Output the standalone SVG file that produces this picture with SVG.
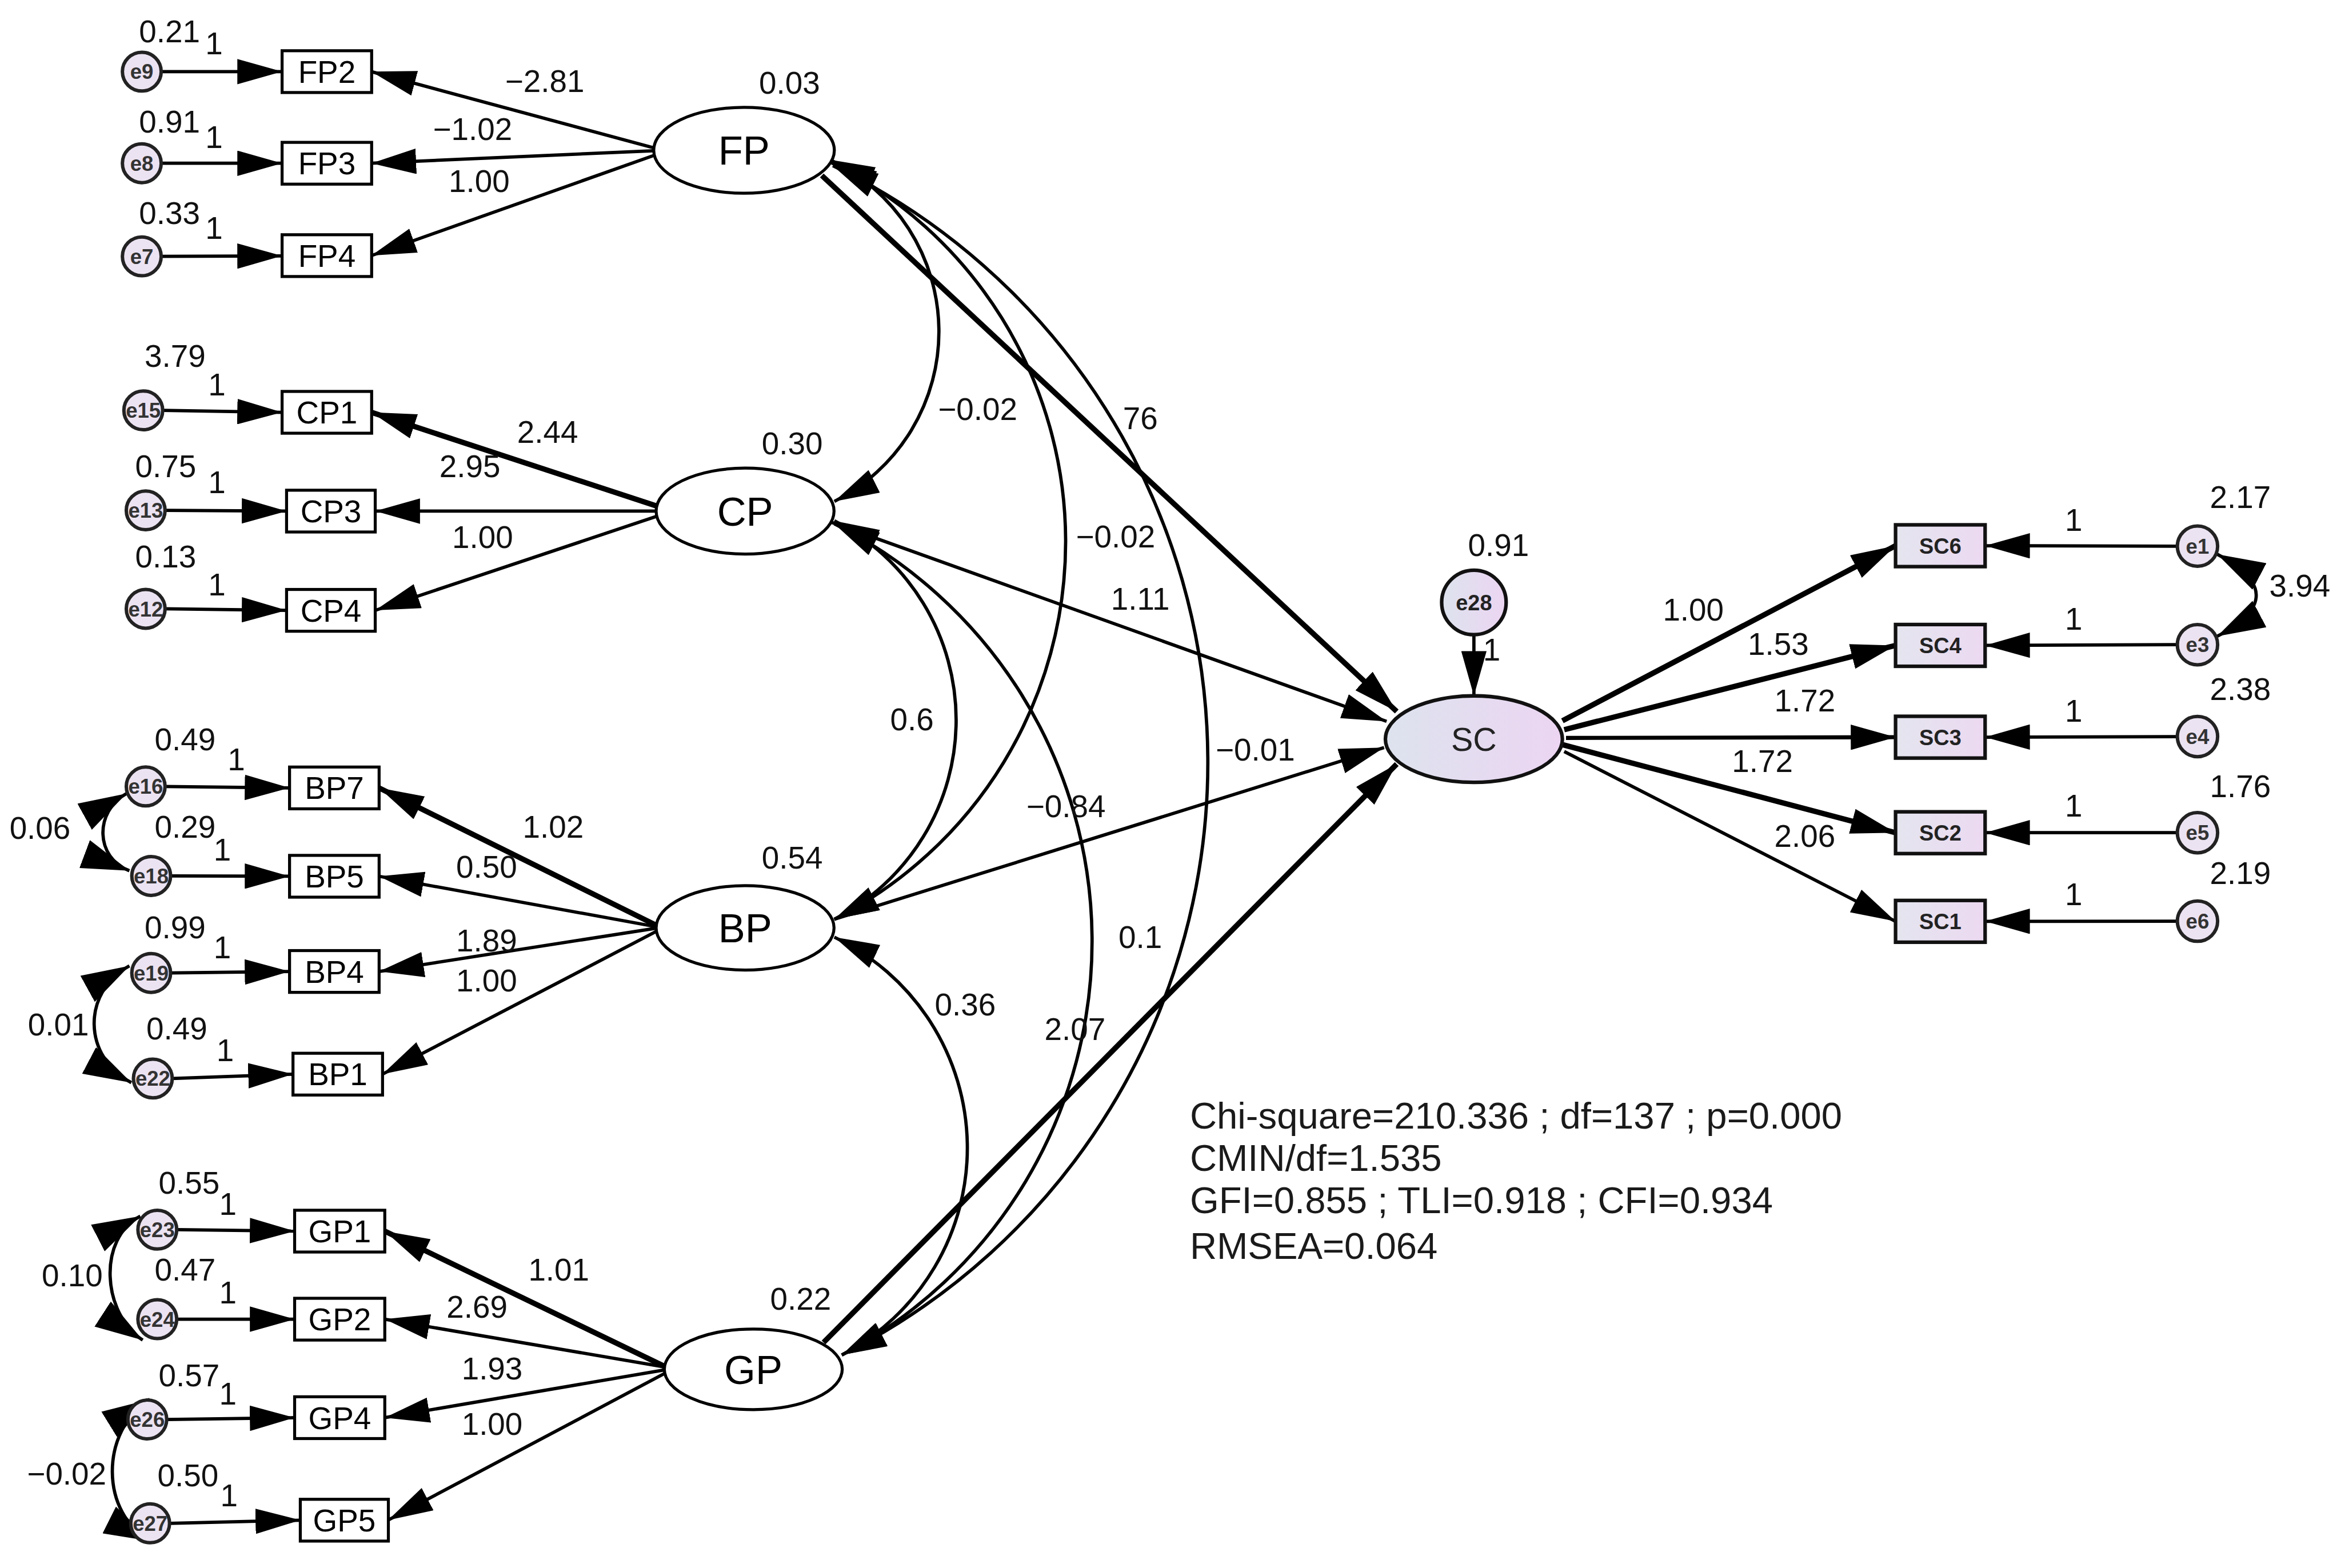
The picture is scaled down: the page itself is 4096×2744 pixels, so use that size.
<svg xmlns="http://www.w3.org/2000/svg" width="4096" height="2744" viewBox="0 0 4096 2744">
<defs>
<style>
.ln{stroke:#000;stroke-width:2.2;fill:none}
.tk{stroke:#000;stroke-width:3.6;fill:none}
.md{stroke:#000;stroke-width:2.7;fill:none}
.ar{marker-end:url(#ah)}
.cv{marker-start:url(#ah);marker-end:url(#ah)}
.cb{marker-start:url(#ahb);marker-end:url(#ahb)}
.nd{fill:#fff;stroke:#000;stroke-width:2}
.bx{fill:#fff;stroke:#000;stroke-width:2}
.sbx{fill:url(#gBox);stroke:#111;stroke-width:2.4}
.ec{fill:#ece3f2;stroke:#222;stroke-width:2.3}
.t{font-family:"Liberation Sans",Arial,sans-serif;font-size:21px;fill:#111;text-anchor:middle}
.tl{font-family:"Liberation Sans",Arial,sans-serif;font-size:27px;fill:#000;text-anchor:middle}
.tb{font-family:"Liberation Sans",Arial,sans-serif;font-size:21px;fill:#000;text-anchor:middle}
.te{font-family:"Liberation Sans",Arial,sans-serif;font-size:14px;font-weight:bold;fill:#333;text-anchor:middle}
.ts{font-family:"Liberation Sans",Arial,sans-serif;font-size:14.5px;font-weight:bold;fill:#222;text-anchor:middle}
.st{font-family:"Liberation Sans",Arial,sans-serif;font-size:25px;fill:#1a1a1a}
</style>
<marker id="ah" viewBox="0 0 30 17" refX="30" refY="8.5" markerWidth="30" markerHeight="17" markerUnits="userSpaceOnUse" orient="auto-start-reverse"><path d="M0,0 L30,8.5 L0,17 z" fill="#000"/></marker>
<marker id="ahb" viewBox="0 0 32 20" refX="32" refY="10" markerWidth="32" markerHeight="20" markerUnits="userSpaceOnUse" orient="auto-start-reverse"><path d="M0,0 L32,10 L0,20 z" fill="#000"/></marker>
<linearGradient id="gSC" x1="0" y1="0" x2="1" y2="0"><stop offset="0" stop-color="#dde3ee"/><stop offset="1" stop-color="#ecd5f2"/></linearGradient>
<linearGradient id="gBox" x1="0" y1="0" x2="1" y2="0"><stop offset="0" stop-color="#e4e5ef"/><stop offset="1" stop-color="#ecd9f1"/></linearGradient>
</defs>
<rect width="4096" height="2744" fill="#fff"/>
<g transform="scale(2.6115)">
<g id="connectors">
<path class="ln ar" d="M108,48 L189,48"/>
<path class="ln ar" d="M108,109.4 L189,109.4"/>
<path class="ln ar" d="M108,171.8 L189,171.5"/>
<path class="ln ar" d="M109,275 L189,276.3"/>
<path class="ln ar" d="M110.6,342 L192,342.5"/>
<path class="ln ar" d="M110.6,408 L192,409"/>
<path class="ln ar" d="M110.6,527 L194,528"/>
<path class="ln ar" d="M114.3,587 L194,587.2"/>
<path class="ln ar" d="M114.3,652 L194,651"/>
<path class="ln ar" d="M115.4,722.7 L196.3,719.8"/>
<path class="ln ar" d="M118.4,824 L197.4,825"/>
<path class="ln ar" d="M118.4,884 L197.4,884"/>
<path class="ln ar" d="M111.7,951.2 L197.4,950"/>
<path class="ln ar" d="M113.6,1020.8 L201.2,1018.7"/>
<path class="ln ar" d="M437.7,99 L248.8,48"/>
<path class="ln ar" d="M437.7,101 L248.8,109.4"/>
<path class="ln ar" d="M438.5,104 L248.8,171.3"/>
<path class="tk ar" d="M439.6,339 L248.8,276.3"/>
<path class="ln ar" d="M439.6,342.5 L251.4,342.5"/>
<path class="ln ar" d="M440,346 L251.4,409"/>
<path class="tk ar" d="M439.6,620 L254,528"/>
<path class="ln ar" d="M439.6,621 L254,587.2"/>
<path class="ln ar" d="M439.6,622 L254,651"/>
<path class="ln ar" d="M440,624 L256.3,719.8"/>
<path class="tk ar" d="M445.1,915.6 L257.8,825"/>
<path class="ln ar" d="M445.1,916 L257.8,884"/>
<path class="ln ar" d="M445.1,918 L257.8,950"/>
<path class="ln ar" d="M446,920 L260,1018.7"/>
<path class="ln cb" d="M84.7,531.8 C63.15,543.7 63.65,574.9 86.7,583.5"/>
<path class="ln cb" d="M86.7,647.2 C54.5,664.9 55.5,708.4 88,725.5"/>
<path class="ln cb" d="M94,815 C65.2,829.8 68.4,880.3 95.6,898"/>
<path class="ln cb" d="M100.4,937.7 C66.8,958.4 66.5,1015.2 101.8,1032.9"/>
<path class="ln cv" d="M556,107 A127.4,127.4 0 0 1 559,336"/>
<path class="ln cv" d="M557,109 A284,284 0 0 1 559,616"/>
<path class="ln cv" d="M558,111 A444,444 0 0 1 564,908"/>
<path class="ln cv" d="M559,349 A150,150 0 0 1 559,616"/>
<path class="ln cv" d="M559,351 A313,313 0 0 1 564,908"/>
<path class="ln cv" d="M559,628 A156.5,156.5 0 0 1 564,908"/>
<path class="tk ar" d="M550.6,117.6 L935.8,476.8"/>
<path class="ln ar" d="M557,350 L929,483.4"/>
<path class="ln ar" d="M558.9,616 L927.3,501"/>
<path class="tk ar" d="M551.8,899.6 L935.8,512"/>
<path class="ln ar" d="M987.5,425.4 L987.5,466.3"/>
<path class="tk ar" d="M1046.8,483 L1270,365.7"/>
<path class="tk ar" d="M1048,489 L1270,432.5"/>
<path class="md ar" d="M1049.2,494.5 L1270,494"/>
<path class="tk ar" d="M1046.8,499 L1270,558"/>
<path class="ln ar" d="M1048,503.6 L1270,617.4"/>
<path class="ln ar" d="M1458.8,366 L1330,365.7"/>
<path class="ln ar" d="M1458.8,432 L1330,432.5"/>
<path class="ln ar" d="M1458.8,493.6 L1330,494"/>
<path class="ln ar" d="M1458.8,558 L1330,558"/>
<path class="ln ar" d="M1458.8,617.3 L1330,617.4"/>
<path class="ln cb" d="M1485.5,371.4 Q1537.8,398.9 1485.5,426.4"/>
</g>

<g id="FP"><ellipse class="nd" cx="498.5" cy="100.7" rx="60.5" ry="28.8"/><text class="tl" x="498.5" y="110.4">FP</text></g>
<g id="CP"><ellipse class="nd" cx="499.2" cy="342.5" rx="59.6" ry="28.8"/><text class="tl" x="499.2" y="352.2">CP</text></g>
<g id="BP"><ellipse class="nd" cx="499.2" cy="621.8" rx="59.6" ry="28.3"/><text class="tl" x="499.2" y="631.5">BP</text></g>
<g id="GP"><ellipse class="nd" cx="504.7" cy="917.6" rx="59.6" ry="27"/><text class="tl" x="504.7" y="927.3">GP</text></g>
<g id="SC"><ellipse cx="987.5" cy="495.3" rx="59.3" ry="29" fill="url(#gSC)" stroke="#111" stroke-width="2.4"/><text class="tl" x="987.5" y="503.3" style="font-size:22px;fill:#222">SC</text></g>
<g id="e28"><circle cx="987.5" cy="403.7" r="21.6" fill="url(#gSC)" stroke="#111" stroke-width="2.4"/><text class="ts" x="987.5" y="408.8">e28</text></g>

<g id="FP2"><rect class="bx" x="189" y="34" width="60" height="28"/><text class="tb" x="219" y="55.5">FP2</text></g>
<g id="FP3"><rect class="bx" x="189" y="95.4" width="60" height="28"/><text class="tb" x="219" y="116.9">FP3</text></g>
<g id="FP4"><rect class="bx" x="189" y="157.3" width="60" height="28"/><text class="tb" x="219" y="178.8">FP4</text></g>
<g id="CP1"><rect class="bx" x="189" y="262.3" width="60" height="28"/><text class="tb" x="219" y="283.8">CP1</text></g>
<g id="CP3"><rect class="bx" x="192" y="328.5" width="59.4" height="28"/><text class="tb" x="221.7" y="350">CP3</text></g>
<g id="CP4"><rect class="bx" x="192" y="395" width="59.4" height="28"/><text class="tb" x="221.7" y="416.5">CP4</text></g>
<g id="BP7"><rect class="bx" x="194" y="514" width="60" height="28"/><text class="tb" x="224" y="535.5">BP7</text></g>
<g id="BP5"><rect class="bx" x="194" y="573.2" width="60" height="28"/><text class="tb" x="224" y="594.7">BP5</text></g>
<g id="BP4"><rect class="bx" x="194" y="637" width="60" height="28"/><text class="tb" x="224" y="658.5">BP4</text></g>
<g id="BP1"><rect class="bx" x="196.3" y="705.8" width="60" height="28"/><text class="tb" x="226.3" y="727.3">BP1</text></g>
<g id="GP1"><rect class="bx" x="197.4" y="811" width="60.4" height="28"/><text class="tb" x="227.6" y="832.5">GP1</text></g>
<g id="GP2"><rect class="bx" x="197.4" y="870" width="60.4" height="28"/><text class="tb" x="227.6" y="891.5">GP2</text></g>
<g id="GP4"><rect class="bx" x="197.4" y="936" width="60.4" height="28"/><text class="tb" x="227.6" y="957.5">GP4</text></g>
<g id="GP5"><rect class="bx" x="201.2" y="1004.7" width="59" height="28"/><text class="tb" x="230.7" y="1026.2">GP5</text></g>

<g id="e9"><circle class="ec" cx="95" cy="48" r="13"/><text class="te" x="95" y="53">e9</text></g>
<g id="e8"><circle class="ec" cx="95" cy="109.4" r="13"/><text class="te" x="95" y="114.4">e8</text></g>
<g id="e7"><circle class="ec" cx="95" cy="171.8" r="13"/><text class="te" x="95" y="176.8">e7</text></g>
<g id="e15"><circle class="ec" cx="96" cy="275" r="13"/><text class="te" x="96" y="280">e15</text></g>
<g id="e13"><circle class="ec" cx="97.6" cy="342" r="13"/><text class="te" x="97.6" y="347">e13</text></g>
<g id="e12"><circle class="ec" cx="97.6" cy="408" r="13"/><text class="te" x="97.6" y="413">e12</text></g>
<g id="e16"><circle class="ec" cx="97.6" cy="527" r="13"/><text class="te" x="97.6" y="532">e16</text></g>
<g id="e18"><circle class="ec" cx="101.3" cy="587" r="13"/><text class="te" x="101.3" y="592">e18</text></g>
<g id="e19"><circle class="ec" cx="101.3" cy="652" r="13"/><text class="te" x="101.3" y="657">e19</text></g>
<g id="e22"><circle class="ec" cx="102.4" cy="722.7" r="13"/><text class="te" x="102.4" y="727.7">e22</text></g>
<g id="e23"><circle class="ec" cx="105.4" cy="824" r="13"/><text class="te" x="105.4" y="829">e23</text></g>
<g id="e24"><circle class="ec" cx="105.4" cy="884" r="13"/><text class="te" x="105.4" y="889">e24</text></g>
<g id="e26"><circle class="ec" cx="98.7" cy="951.2" r="13"/><text class="te" x="98.7" y="956.2">e26</text></g>
<g id="e27"><circle class="ec" cx="100.6" cy="1020.8" r="13"/><text class="te" x="100.6" y="1025.8">e27</text></g>

<g id="SC6"><rect class="sbx" x="1270" y="351.7" width="60" height="28"/><text class="ts" x="1300" y="370.9">SC6</text></g>
<g id="SC4"><rect class="sbx" x="1270" y="418.5" width="60" height="28"/><text class="ts" x="1300" y="437.7">SC4</text></g>
<g id="SC3"><rect class="sbx" x="1270" y="480" width="60" height="28"/><text class="ts" x="1300" y="499.2">SC3</text></g>
<g id="SC2"><rect class="sbx" x="1270" y="544" width="60" height="28"/><text class="ts" x="1300" y="563.2">SC2</text></g>
<g id="SC1"><rect class="sbx" x="1270" y="603.4" width="60" height="28"/><text class="ts" x="1300" y="622.6">SC1</text></g>
<g id="e1"><circle class="ec" cx="1472.3" cy="366" r="13.5"/><text class="te" x="1472.3" y="371">e1</text></g>
<g id="e3"><circle class="ec" cx="1472.3" cy="432" r="13.5"/><text class="te" x="1472.3" y="437">e3</text></g>
<g id="e4"><circle class="ec" cx="1472.3" cy="493.6" r="13.5"/><text class="te" x="1472.3" y="498.6">e4</text></g>
<g id="e5"><circle class="ec" cx="1472.3" cy="558" r="13.5"/><text class="te" x="1472.3" y="563">e5</text></g>
<g id="e6"><circle class="ec" cx="1472.3" cy="617.3" r="13.5"/><text class="te" x="1472.3" y="622.3">e6</text></g>

<g id="labels">
<text class="t" x="113.6" y="28.2">0.21</text><text class="t" x="143.4" y="36.3">1</text>
<text class="t" x="113.6" y="88.7">0.91</text><text class="t" x="143.4" y="99">1</text>
<text class="t" x="113.6" y="150">0.33</text><text class="t" x="143.4" y="160">1</text>
<text class="t" x="365" y="61.6">−2.81</text>
<text class="t" x="316.6" y="93.8">−1.02</text>
<text class="t" x="321" y="128.5">1.00</text>
<text class="t" x="529" y="62.8">0.03</text>
<text class="t" x="117.3" y="245.8">3.79</text><text class="t" x="145.3" y="265.1">1</text>
<text class="t" x="111" y="319.8">0.75</text><text class="t" x="145.3" y="330.5">1</text>
<text class="t" x="111" y="380.2">0.13</text><text class="t" x="145.3" y="398.9">1</text>
<text class="t" x="366.9" y="296.7">2.44</text>
<text class="t" x="314.8" y="319.8">2.95</text>
<text class="t" x="323.3" y="367.3">1.00</text>
<text class="t" x="530.8" y="304.5">0.30</text>
<text class="t" x="124" y="502.8">0.49</text><text class="t" x="158.3" y="516.1">1</text>
<text class="t" x="124" y="561.2">0.29</text><text class="t" x="149" y="576.5">1</text>
<text class="t" x="26.8" y="562">0.06</text>
<text class="t" x="117.3" y="628.9">0.99</text><text class="t" x="149" y="642.3">1</text>
<text class="t" x="39.1" y="693.9">0.01</text>
<text class="t" x="118.5" y="696.5">0.49</text><text class="t" x="150.9" y="711">1</text>
<text class="t" x="370.6" y="561.2">1.02</text>
<text class="t" x="326" y="588">0.50</text>
<text class="t" x="326" y="637.7">1.89</text>
<text class="t" x="326" y="664.5">1.00</text>
<text class="t" x="530.8" y="581.9">0.54</text>
<text class="t" x="126.7" y="800.1">0.55</text><text class="t" x="152.7" y="814.2">1</text>
<text class="t" x="48.4" y="862">0.10</text>
<text class="t" x="124" y="858.2">0.47</text><text class="t" x="152.7" y="873.5">1</text>
<text class="t" x="126.7" y="928.9">0.57</text><text class="t" x="152.7" y="941.1">1</text>
<text class="t" x="44.7" y="994.7">−0.02</text>
<text class="t" x="125.9" y="995.8">0.50</text><text class="t" x="153.5" y="1009.2">1</text>
<text class="t" x="374.4" y="858.2">1.01</text>
<text class="t" x="319.6" y="883">2.69</text>
<text class="t" x="329.7" y="924.3">1.93</text>
<text class="t" x="329.7" y="961.4">1.00</text>
<text class="t" x="536.4" y="877.5">0.22</text>
<text class="t" x="655" y="281.5">−0.02</text>
<text class="t" x="764" y="287.5">76</text>
<text class="t" x="747.4" y="366.9">−0.02</text>
<text class="t" x="764" y="408.4">1.11</text>
<text class="t" x="611" y="489.5">0.6</text>
<text class="t" x="841" y="509.5">−0.01</text>
<text class="t" x="714.2" y="547.5">−0.84</text>
<text class="t" x="764" y="635.3">0.1</text>
<text class="t" x="646.7" y="680.3">0.36</text>
<text class="t" x="720.2" y="696.9">2.07</text>
<text class="t" x="1004" y="372.5">0.91</text>
<text class="t" x="999.4" y="442.5">1</text>
<text class="t" x="1134.5" y="415.8">1.00</text>
<text class="t" x="1191.4" y="438.7">1.53</text>
<text class="t" x="1209.2" y="476.8">1.72</text>
<text class="t" x="1180.8" y="517.2">1.72</text>
<text class="t" x="1209.2" y="567.5">2.06</text>
<text class="t" x="1389.3" y="355.8">1</text>
<text class="t" x="1389.3" y="421.8">1</text>
<text class="t" x="1389.3" y="483.5">1</text>
<text class="t" x="1389.3" y="547.3">1</text>
<text class="t" x="1389.3" y="606.7">1</text>
<text class="t" x="1501" y="340.5">2.17</text>
<text class="t" x="1540.8" y="399.8">3.94</text>
<text class="t" x="1501" y="469.2">2.38</text>
<text class="t" x="1501" y="534.1">1.76</text>
<text class="t" x="1501" y="592.5">2.19</text>
</g>

<g id="fit-stats">
<text class="st" x="797.2" y="756.4">Chi-square=210.336 ; df=137 ; p=0.000</text>
<text class="st" x="797.2" y="784.5">CMIN/df=1.535</text>
<text class="st" x="797.2" y="813.1">GFI=0.855 ; TLI=0.918 ; CFI=0.934</text>
<text class="st" x="797.2" y="843.4">RMSEA=0.064</text>
</g>
</g>
</svg>
